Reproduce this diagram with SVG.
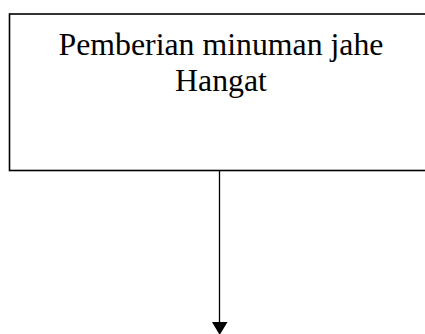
<svg xmlns="http://www.w3.org/2000/svg" width="425" height="334" viewBox="0 0 425 334">
<defs>
<style>
.box{fill:#fff;stroke:#000;stroke-width:1.6}
.lbl{font-family:"Liberation Serif","Times New Roman",serif;font-size:31.8px;fill:#000;text-anchor:middle}
.conn{stroke:#000;stroke-width:1.3;fill:none}
</style>
</defs>
<g id="node-pemberian">
<rect class="box" x="9.5" y="14" width="430" height="156.5"/>
<text class="lbl" x="221" y="54.5">Pemberian minuman jahe</text>
<text class="lbl" x="221" y="91">Hangat</text>
</g>
<g id="connectors">
<line class="conn" x1="219.5" y1="171" x2="219.5" y2="323"/>
<polygon points="212,322 227.5,322 219.7,335" fill="#000"/>
</g>
</svg>
